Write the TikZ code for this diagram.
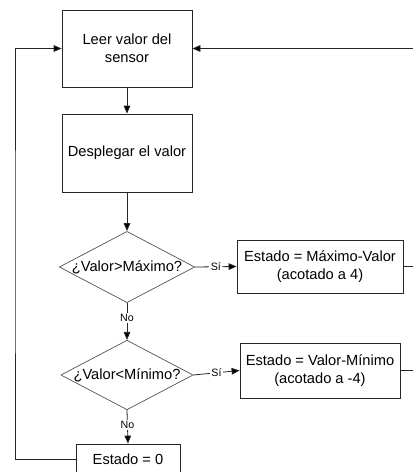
\documentclass[tikz,border=0pt]{standalone}
\usepackage{fontspec}
\setmainfont{Liberation Sans}
\usetikzlibrary{
	arrows.meta,
	shapes.geometric
}

\tikzset{
	caja/.style={draw=black!85,line width=0.6pt,align=center,
		font=\fontsize{11}{13.5}\selectfont},
	decision/.style={draw=black!70,line width=0.5pt,diamond,aspect=1.9,
		inner sep=0pt,font=\fontsize{11}{13.5}\selectfont},
	flecha/.style={draw=black!85,line width=0.6pt,
		-{Triangle[fill=black,length=6pt,width=5pt]}},
	linea/.style={draw=black!85,line width=0.6pt},
	etiqueta/.style={fill=white,inner sep=1pt,font=\fontsize{8}{9}\selectfont}
}

\begin{document}
\begin{tikzpicture}[x=0.75pt,y=-0.75pt]
		\useasboundingbox (0, 0) rectangle (413, 472);

		\node[caja,minimum width=97.5pt,minimum height=57.75pt] at (127, 48.5) (leer)
			{Leer valor del \\ sensor};
		\node[caja,minimum width=97.5pt,minimum height=58.5pt] at (127, 153) (desplegar)
			{Desplegar el valor};
		\node[decision] at (127, 267) (mayor)
			{¿Valor>Máximo?};
		\node[caja,minimum width=124.5pt,minimum height=39.75pt] at (320, 266.5) (estado-max)
			{Estado = Máximo-Valor \\ (acotado a 4)};
		\node[decision] at (127, 375) (menor)
			{¿Valor<Mínimo?};
		\node[caja,minimum width=120pt,minimum height=41.25pt] at (320, 370.5) (estado-min)
			{Estado = Valor-Mínimo \\ (acotado a -4)};
		\node[caja,minimum width=78pt,minimum height=22.5pt] at (128, 459) (estado-cero)
			{Estado = 0};

		% puntos de retorno del lazo
		\coordinate (lazo-izq) at (15, 250);
		\coordinate (lazo-der) at (418, 48.5);

		\draw[flecha] (leer) -- (desplegar);
		\draw[flecha] (desplegar) -- (mayor);
		\draw[flecha] (mayor.east) -- node[etiqueta,pos=0.5] {Sí} (estado-max.west);
		\draw[flecha] (mayor.south) -- node[etiqueta,pos=0.4] {No} (menor.north);
		\draw[flecha] (menor.east) -- node[etiqueta,pos=0.5] {Sí} (estado-min.west);
		\draw[flecha] (menor.south) -- node[etiqueta,pos=0.45] {No} (estado-cero.north);

		\draw[flecha] (estado-cero.west) -| (lazo-izq) |- (leer.west);
		\draw[flecha] (estado-max.east) -| (lazo-der) -- (leer.east);
		\draw[linea] (estado-min.east) -| (lazo-der);
	\end{tikzpicture}
\end{document}
